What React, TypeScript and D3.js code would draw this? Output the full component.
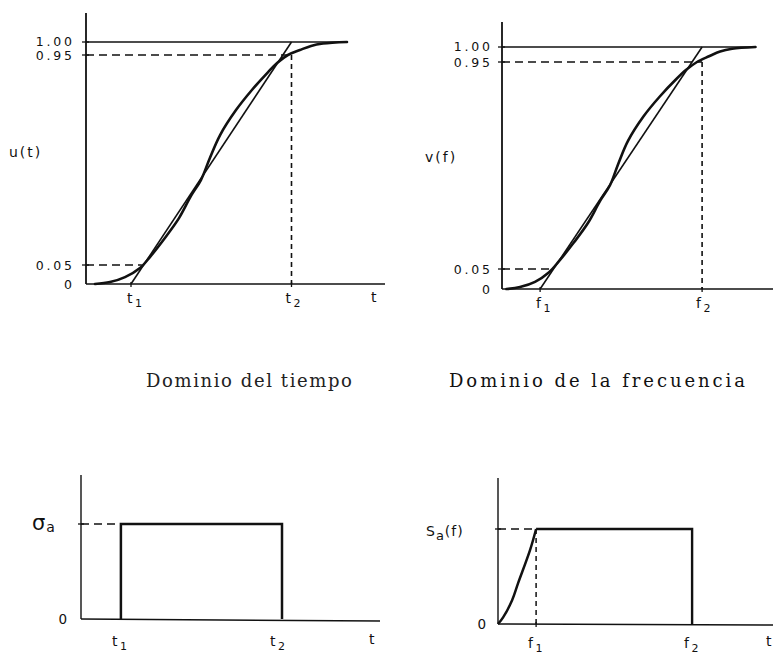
import React from "react";
import * as d3 from "d3";

const W = 773;
const H = 656;

// u(t): normalised cumulative energy, time domain
const timeT = [3, 8, 13, 18, 21.3, 26.3, 31, 35, 38.3, 41.3, 44.7, 50, 55.3, 60.7, 63.7, 67.3, 71.3, 75, 79, 87];
const timeU = [0, 0.005, 0.018, 0.042, 0.084, 0.166, 0.251, 0.346, 0.414, 0.509, 0.607, 0.714, 0.8, 0.877, 0.916, 0.95, 0.969, 0.985, 0.994, 1];
const T1 = 15;
const T2 = 68.5;

// v(f): normalised cumulative energy, frequency domain
const freqF = [1.5, 6, 11, 15.7, 19, 24, 28.7, 32.7, 36, 38.8, 42, 47.2, 52.6, 58.2, 61.4, 65, 69, 72.7, 76.7, 84.5];
const freqV = [0, 0.005, 0.018, 0.042, 0.084, 0.166, 0.251, 0.346, 0.414, 0.509, 0.607, 0.714, 0.8, 0.877, 0.916, 0.95, 0.969, 0.985, 0.994, 1];
const F1 = 12.7;
const F2 = 66.7;

// Levels marked on the cumulative axes
const levelValues = [0, 0.05, 0.95, 1];
const levelLabels = ["0", "0.05", "0.95", "1.00"];

// sigma_a(t): rectangular window between t1 and t2
const sigmaT1 = 13.3;
const sigmaT2 = 67;
const sigmaLevel = 1;

// S_a(f): rising edge up to f1, flat up to f2
const specF = [0, 1.7, 4.7, 6.7, 10.7, 12.7];
const specS = [0, 0.07, 0.25, 0.43, 0.78, 1];
const SF1 = 12.7;
const SF2 = 64.7;

const titles = ["Dominio del tiempo", "Dominio de la frecuencia"];

const INK = "#111";
const SANS = "DejaVu Sans, Liberation Sans, sans-serif";
const SERIF = "DejaVu Serif, Liberation Serif, serif";

type Pt = [number, number];
const zip = (xs: number[], ys: number[]): Pt[] => xs.map((x, i) => [x, ys[i]]);

// x where a monotone curve first reaches a given level
function crossing(xs: number[], ys: number[], level: number): number {
  for (let i = 1; i < ys.length; i++) {
    if (ys[i] >= level) {
      const f = (level - ys[i - 1]) / (ys[i] - ys[i - 1]);
      return xs[i - 1] + f * (xs[i] - xs[i - 1]);
    }
  }
  return xs[xs.length - 1];
}

function SubLabel({ x, y, base, sub, size = 14 }: { x: number; y: number; base: string; sub: string; size?: number }) {
  return (
    <text x={x} y={y} fontFamily={SANS} fontSize={size} fill={INK} letterSpacing={1.5}>
      <tspan>{base}</tspan>
      <tspan dy={4} dx={1} fontSize={size - 3}>{sub}</tspan>
    </text>
  );
}

function CumulativePanel({
  xs, ys, p1, p2, xRange, yRange, axisTop, xEnd, yLabel, varName, axisName, labelEnd, yLabelX, yLabelY,
}: {
  xs: number[]; ys: number[]; p1: number; p2: number;
  xRange: [number, number]; yRange: number[]; axisTop: number; xEnd: number;
  yLabel: string; varName: string; axisName: string | null; labelEnd: number; yLabelX: number; yLabelY: number;
}) {
  const x = d3.scaleLinear().domain([0, 100]).range(xRange);
  const y = d3.scaleLinear().domain(levelValues).range(yRange);
  const line = d3.line<Pt>().x((d) => x(d[0])).y((d) => y(d[1])).curve(d3.curveCatmullRom.alpha(0.5));
  const x0 = x(0);
  const y0 = y(0);
  const x05 = crossing(xs, ys, 0.05);
  const curveEnd = xs[xs.length - 1];
  const ls = 2.8;
  return (
    <g>
      {/* axes */}
      <line x1={x0} y1={axisTop} x2={x0} y2={y0} stroke={INK} strokeWidth={1.8} />
      <line x1={x0} y1={y0} x2={xEnd} y2={y0} stroke={INK} strokeWidth={1.7} />
      {/* level ticks and labels */}
      {levelValues.map((v, i) => (
        <g key={v}>
          {v > 0 && <line x1={x0 - 4} x2={x0 + 3} y1={y(v)} y2={y(v)} stroke={INK} strokeWidth={1.3} />}
          <text
            x={labelEnd + ls}
            y={y(v) + (v === 1 ? -0.5 : v === 0.95 ? 0.5 : 0)}
            dy="0.36em"
            textAnchor="end"
            fontFamily={SANS}
            fontSize={12.5}
            letterSpacing={ls}
            fill={INK}
          >
            {levelLabels[i]}
          </text>
        </g>
      ))}
      {/* unit level */}
      <line x1={x0} x2={x(curveEnd)} y1={y(1)} y2={y(1)} stroke={INK} strokeWidth={1.4} />
      {/* guide lines */}
      <line x1={x0} x2={x(x05)} y1={y(0.05)} y2={y(0.05)} stroke={INK} strokeWidth={1.5} strokeDasharray="8 5" />
      <line x1={x0} x2={x(p2)} y1={y(0.95)} y2={y(0.95)} stroke={INK} strokeWidth={1.5} strokeDasharray="8 5" />
      <line x1={x(p2)} x2={x(p2)} y1={y(0.95)} y2={y0} stroke={INK} strokeWidth={1.6} strokeDasharray="5 4" />
      {/* linear approximation between p1 and p2 */}
      <line x1={x(p1)} y1={y(0)} x2={x(p2)} y2={y(1)} stroke={INK} strokeWidth={1.6} />
      {/* cumulative curve */}
      <path d={line(zip(xs, ys)) ?? ""} fill="none" stroke={INK} strokeWidth={2.6} strokeLinecap="round" />
      {/* x ticks */}
      {[p1, p2].map((p) => (
        <line key={p} x1={x(p)} x2={x(p)} y1={y0 - 2} y2={y0 + 3} stroke={INK} strokeWidth={1.3} />
      ))}
      <SubLabel x={x(p1) - 4} y={y0 + 19} base={varName} sub="1" />
      <SubLabel x={x(p2) - 6} y={y0 + 19} base={varName} sub="2" />
      {axisName && (
        <text x={xEnd - 14} y={y0 + 18} fontFamily={SANS} fontSize={14} fill={INK}>{axisName}</text>
      )}
      <text x={yLabelX} y={yLabelY} fontFamily={SANS} fontSize={14} letterSpacing={2} fill={INK}>{yLabel}</text>
    </g>
  );
}

export default function App() {
  // bottom-left: sigma_a window
  const bx = d3.scaleLinear().domain([0, 100]).range([81, 381]);
  const by = d3.scaleLinear().domain([0, 1]).range([619, 524]);
  // bottom-right: S_a(f)
  const sx = d3.scaleLinear().domain([0, 100]).range([498, 798]);
  const sy = d3.scaleLinear().domain([0, 1]).range([624, 529]);
  const specLine = d3.line<Pt>().x((d) => sx(d[0])).y((d) => sy(d[1])).curve(d3.curveCatmullRom.alpha(0.5));

  const rectPath = d3.path();
  rectPath.moveTo(bx(sigmaT1), by(0));
  rectPath.lineTo(bx(sigmaT1), by(sigmaLevel));
  rectPath.lineTo(bx(sigmaT2), by(sigmaLevel));
  rectPath.lineTo(bx(sigmaT2), by(0));

  const specPts = zip(specF, specS);

  return (
    <svg
      width={W}
      height={H}
      viewBox={`0 0 ${W} ${H}`}
      style={{ position: "absolute", left: 0, top: 0, background: "#fff" }}
    >
      <rect width={W} height={H} fill="#fff" />

      <CumulativePanel
        xs={timeT} ys={timeU} p1={T1} p2={T2}
        xRange={[86, 386]} yRange={[284, 265, 55, 42]} axisTop={13} xEnd={385}
        yLabel="u(t)" varName="t" axisName="t" labelEnd={72} yLabelX={9} yLabelY={157}
      />
      <CumulativePanel
        xs={freqF} ys={freqV} p1={F1} p2={F2}
        xRange={[502, 802]} yRange={[289, 269, 62, 47]} axisTop={22} xEnd={773}
        yLabel="v(f)" varName="f" axisName={null} labelEnd={490} yLabelX={425} yLabelY={162}
      />

      {/* titles */}
      <text x={146} y={387} fontFamily={SERIF} fontSize={18} fill="#222" letterSpacing={1.6}>{titles[0]}</text>
      <text x={449} y={387} fontFamily={SERIF} fontSize={18} fill="#111" textLength={296} lengthAdjust="spacing">{titles[1]}</text>

      {/* sigma_a window */}
      <g>
        <line x1={bx(0)} y1={475} x2={bx(0)} y2={by(0)} stroke={INK} strokeWidth={1.4} />
        <line x1={bx(0)} y1={by(0)} x2={380} y2={by(0) + 2} stroke={INK} strokeWidth={1.5} />
        <line x1={bx(0) - 3} x2={bx(0) + 3} y1={by(sigmaLevel)} y2={by(sigmaLevel)} stroke={INK} strokeWidth={1.3} />
        <line x1={bx(0)} x2={bx(sigmaT1)} y1={by(sigmaLevel)} y2={by(sigmaLevel)} stroke={INK} strokeWidth={1.5} strokeDasharray="8 5" />
        <path d={rectPath.toString()} fill="none" stroke={INK} strokeWidth={2.5} strokeLinejoin="miter" />
        <text x={67} y={by(0)} dy="0.36em" textAnchor="end" fontFamily={SANS} fontSize={13.5} fill={INK}>0</text>
        <text x={32} y={by(sigmaLevel) + 6} fontFamily={SANS} fill={INK}>
          <tspan fontSize={21}>σ</tspan>
          <tspan fontSize={14} dx={1} dy={2}>a</tspan>
        </text>
        <SubLabel x={112} y={646} base="t" sub="1" />
        <SubLabel x={270} y={646} base="t" sub="2" />
        <text x={369} y={644} fontFamily={SANS} fontSize={14} fill={INK}>t</text>
      </g>

      {/* S_a(f) */}
      <g>
        <line x1={sx(0)} y1={478} x2={sx(0)} y2={sy(0)} stroke={INK} strokeWidth={1.4} />
        <line x1={sx(0)} y1={sy(0)} x2={773} y2={sy(0) + 1} stroke={INK} strokeWidth={1.5} />
        <line x1={sx(0) - 3} x2={sx(0) + 3} y1={sy(1)} y2={sy(1)} stroke={INK} strokeWidth={1.3} />
        <line x1={sx(0)} x2={sx(SF1)} y1={sy(1)} y2={sy(1)} stroke={INK} strokeWidth={1.5} strokeDasharray="8 5" />
        <line x1={sx(SF1)} x2={sx(SF1)} y1={sy(1)} y2={sy(0)} stroke={INK} strokeWidth={1.5} strokeDasharray="5 4" />
        <path d={specLine(specPts) ?? ""} fill="none" stroke={INK} strokeWidth={2.5} />
        <path
          d={`M${sx(SF1)},${sy(1)}H${sx(SF2)}V${sy(0)}`}
          fill="none"
          stroke={INK}
          strokeWidth={2.4}
        />
        <line x1={sx(SF1)} x2={sx(SF1)} y1={sy(0) - 2} y2={sy(0) + 3} stroke={INK} strokeWidth={1.3} />
        <text x={486} y={sy(0)} dy="0.36em" textAnchor="end" fontFamily={SANS} fontSize={13.5} fill={INK}>0</text>
        <text x={426} y={536} fontFamily={SANS} fill={INK} letterSpacing={1}>
          <tspan fontSize={14}>S</tspan>
          <tspan fontSize={13} dy={4}>a</tspan>
          <tspan fontSize={14} dy={-4}>(f)</tspan>
        </text>
        <SubLabel x={528} y={648} base="f" sub="1" />
        <SubLabel x={684} y={648} base="f" sub="2" />
        <text x={766} y={646} fontFamily={SANS} fontSize={14} fill={INK}>t</text>
      </g>
    </svg>
  );
}
